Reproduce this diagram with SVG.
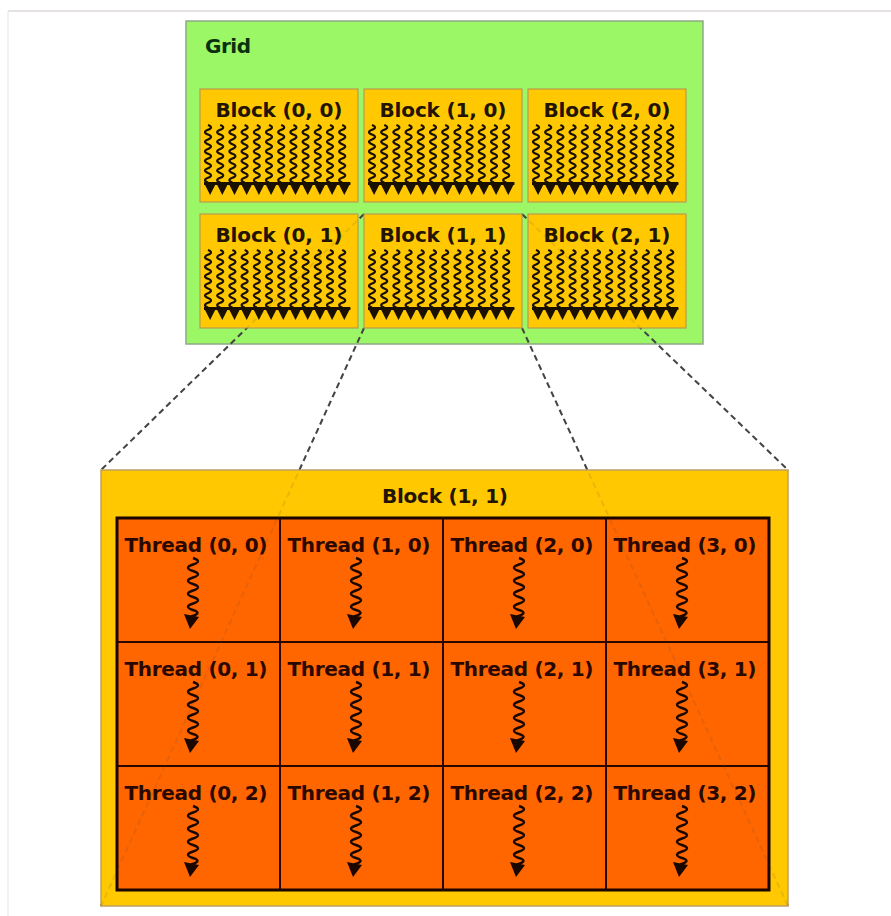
<svg xmlns="http://www.w3.org/2000/svg" width="891" height="916" viewBox="0 0 891 916">
<style>
.lbl{font-family:"DejaVu Sans","Verdana",sans-serif;font-weight:bold;font-size:20px;text-anchor:middle}
.blk{fill:#FFC800;stroke:#B89A50;stroke-width:1.2}
.cell{fill:#FF6600;stroke:#2a0800;stroke-width:2}
.dash{fill:none;stroke:#444;stroke-width:2;stroke-dasharray:6 4}
.wv{fill:none;stroke:#1a1000;stroke-width:2.2}
.tw{fill:none;stroke:#1a0800;stroke-width:2.4}
</style>
<defs>
<path id="w1" class="wv" d="M0,0 q6,2.4 0,4.8 q-6,2.4 0,4.8 q6,2.4 0,4.8 q-6,2.4 0,4.8 q6,2.4 0,4.8 q-6,2.4 0,4.8 q6,2.4 0,4.8 q-6,2.4 0,4.8 q6,2.4 0,4.8 q-6,2.4 0,4.8 q6,2.4 0,4.8 q-6,2.4 0,4.8"/>
<g id="waves">
<use href="#w1" x="8"/><use href="#w1" x="20.2"/><use href="#w1" x="32.4"/><use href="#w1" x="44.6"/><use href="#w1" x="56.8"/><use href="#w1" x="69"/><use href="#w1" x="81.2"/><use href="#w1" x="93.4"/><use href="#w1" x="105.6"/><use href="#w1" x="117.8"/><use href="#w1" x="130"/><use href="#w1" x="142.2"/>
<rect x="4" y="57" width="146.4" height="3" fill="#1a1000"/>
<path fill="#1a1000" d="M4,58 l12.2,0 l-6.1,12 z M16.2,58 l12.2,0 l-6.1,12 z M28.4,58 l12.2,0 l-6.1,12 z M40.6,58 l12.2,0 l-6.1,12 z M52.8,58 l12.2,0 l-6.1,12 z M65,58 l12.2,0 l-6.1,12 z M77.2,58 l12.2,0 l-6.1,12 z M89.4,58 l12.2,0 l-6.1,12 z M101.6,58 l12.2,0 l-6.1,12 z M113.8,58 l12.2,0 l-6.1,12 z M126,58 l12.2,0 l-6.1,12 z M138.2,58 l12.2,0 l-6.1,12 z"/>
</g>
<g id="tw">
<path class="tw" d="M-2,0 q10,3.2 0,6.5 q-10,3.2 0,6.5 q10,3.2 0,6.5 q-10,3.2 0,6.5 q10,3.2 0,6.5 q-10,3.2 0,6.5 q10,3.2 0,6.5 q-10,3.2 0,6.5 q10,3.2 -2,6.5"/>
<path fill="#1a0800" d="M-11,56 L4,59 L-5,71 z"/>
</g>
</defs>
<rect width="891" height="916" fill="#ffffff"/>
<line x1="8" y1="11" x2="891" y2="11" stroke="#e6e2e2" stroke-width="2"/>
<line x1="8" y1="11" x2="8" y2="916" stroke="#eeeeee" stroke-width="1.5"/>

<g id="grid">
<rect x="186" y="21" width="517" height="323" fill="#9CF766" stroke="#8FA888" stroke-width="1.5"/>
<text class="lbl" x="205" y="53" style="text-anchor:start" fill="#0a3010" textLength="46">Grid</text>
</g>

<g id="connectors">
<line class="dash" x1="364" y1="214" x2="101" y2="470"/>
<line class="dash" x1="522" y1="214" x2="788" y2="470"/>
<line class="dash" x1="364" y1="328" x2="101" y2="906"/>
<line class="dash" x1="522" y1="328" x2="788" y2="906"/>
</g>

<g id="block-0-0"><rect class="blk" x="200" y="89" width="158" height="113"/><text class="lbl" x="279" y="117" fill="#221400" textLength="127">Block (0, 0)</text><use href="#waves" x="200" y="125"/></g>
<g id="block-1-0"><rect class="blk" x="364" y="89" width="158" height="113"/><text class="lbl" x="443" y="117" fill="#221400" textLength="127">Block (1, 0)</text><use href="#waves" x="364" y="125"/></g>
<g id="block-2-0"><rect class="blk" x="528" y="89" width="158" height="113"/><text class="lbl" x="607" y="117" fill="#221400" textLength="127">Block (2, 0)</text><use href="#waves" x="528" y="125"/></g>
<g id="block-0-1"><rect class="blk" x="200" y="214" width="158" height="114"/><text class="lbl" x="279" y="242" fill="#221400" textLength="127">Block (0, 1)</text><use href="#waves" x="200" y="250"/></g>
<g id="block-1-1"><rect class="blk" x="364" y="214" width="158" height="114"/><text class="lbl" x="443" y="242" fill="#221400" textLength="127">Block (1, 1)</text><use href="#waves" x="364" y="250"/></g>
<g id="block-2-1"><rect class="blk" x="528" y="214" width="158" height="114"/><text class="lbl" x="607" y="242" fill="#221400" textLength="127">Block (2, 1)</text><use href="#waves" x="528" y="250"/></g>

<g id="block-detail">
<rect x="101" y="470" width="687" height="436" fill="#FFC800" stroke="#C0A060" stroke-width="1.5"/>
<text class="lbl" x="445" y="503" fill="#221400" textLength="126">Block (1, 1)</text>
</g>

<g id="thread-0-0"><rect class="cell" x="117" y="518" width="163" height="124"/><text class="lbl" x="196" y="552" fill="#2a0800" textLength="143">Thread (0, 0)</text><use href="#tw" x="195" y="558"/></g>
<g id="thread-1-0"><rect class="cell" x="280" y="518" width="163" height="124"/><text class="lbl" x="359" y="552" fill="#2a0800" textLength="143">Thread (1, 0)</text><use href="#tw" x="358" y="558"/></g>
<g id="thread-2-0"><rect class="cell" x="443" y="518" width="163" height="124"/><text class="lbl" x="522" y="552" fill="#2a0800" textLength="143">Thread (2, 0)</text><use href="#tw" x="521" y="558"/></g>
<g id="thread-3-0"><rect class="cell" x="606" y="518" width="163" height="124"/><text class="lbl" x="685" y="552" fill="#2a0800" textLength="143">Thread (3, 0)</text><use href="#tw" x="684" y="558"/></g>
<g id="thread-0-1"><rect class="cell" x="117" y="642" width="163" height="124"/><text class="lbl" x="196" y="676" fill="#2a0800" textLength="143">Thread (0, 1)</text><use href="#tw" x="195" y="682"/></g>
<g id="thread-1-1"><rect class="cell" x="280" y="642" width="163" height="124"/><text class="lbl" x="359" y="676" fill="#2a0800" textLength="143">Thread (1, 1)</text><use href="#tw" x="358" y="682"/></g>
<g id="thread-2-1"><rect class="cell" x="443" y="642" width="163" height="124"/><text class="lbl" x="522" y="676" fill="#2a0800" textLength="143">Thread (2, 1)</text><use href="#tw" x="521" y="682"/></g>
<g id="thread-3-1"><rect class="cell" x="606" y="642" width="163" height="124"/><text class="lbl" x="685" y="676" fill="#2a0800" textLength="143">Thread (3, 1)</text><use href="#tw" x="684" y="682"/></g>
<g id="thread-0-2"><rect class="cell" x="117" y="766" width="163" height="124"/><text class="lbl" x="196" y="800" fill="#2a0800" textLength="143">Thread (0, 2)</text><use href="#tw" x="195" y="806"/></g>
<g id="thread-1-2"><rect class="cell" x="280" y="766" width="163" height="124"/><text class="lbl" x="359" y="800" fill="#2a0800" textLength="143">Thread (1, 2)</text><use href="#tw" x="358" y="806"/></g>
<g id="thread-2-2"><rect class="cell" x="443" y="766" width="163" height="124"/><text class="lbl" x="522" y="800" fill="#2a0800" textLength="143">Thread (2, 2)</text><use href="#tw" x="521" y="806"/></g>
<g id="thread-3-2"><rect class="cell" x="606" y="766" width="163" height="124"/><text class="lbl" x="685" y="800" fill="#2a0800" textLength="143">Thread (3, 2)</text><use href="#tw" x="684" y="806"/></g>
<rect x="117" y="518" width="652" height="372" fill="none" stroke="#1a0500" stroke-width="3"/>

<g id="connectors-faint" opacity="0.12">
<line class="dash" x1="364" y1="214" x2="101" y2="470"/>
<line class="dash" x1="522" y1="214" x2="788" y2="470"/>
<line class="dash" x1="364" y1="328" x2="101" y2="906"/>
<line class="dash" x1="522" y1="328" x2="788" y2="906"/>
</g>
</svg>
